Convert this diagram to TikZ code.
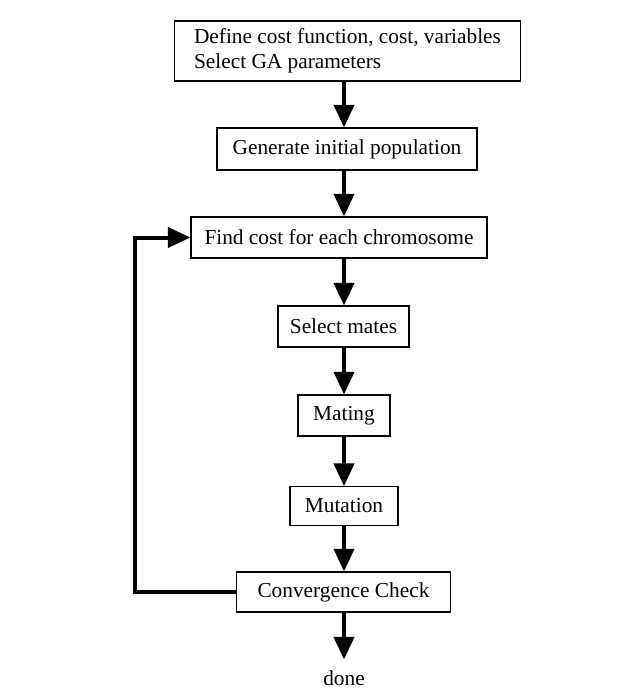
\documentclass[tikz,border=0pt]{standalone}
\usepackage{fontspec}
\setmainfont{Liberation Serif}
\usetikzlibrary{arrows.meta}
\tikzset{caixa/.style={draw,line width=0.8pt,inner sep=0pt,align=left,font=\fontsize{16}{19}\selectfont},
         fluxo/.style={line width=3pt,-{Triangle[length=17pt,width=15pt]}}}

\begin{document}
\begin{tikzpicture}[x=0.75pt,y=-0.75pt]
                  \useasboundingbox (0,0) rectangle (640,700);
                  \coordinate (eixo) at (344,0);
                  \node[caixa,minimum width=260pt,minimum height=45pt] (definir) at (347.5,51) {Define cost function, cost, variables\\Select GA parameters};
                  \node[caixa,minimum width=195pt,minimum height=31.5pt] (gerar) at (347,149) {Generate initial population};
                  \node[caixa,minimum width=222pt,minimum height=30.75pt] (custo) at (339,237.5) {Find cost for each chromosome};
                  \node[caixa,minimum width=98.25pt,minimum height=30.75pt] (selecao) at (343.5,326.5) {Select mates};
                  \node[caixa,minimum width=69pt,minimum height=30.75pt] (cruzamento) at (344,415.5) {Mating};
                  \node[caixa,minimum width=81pt,minimum height=29pt] (mutacao) at (344,506) {Mutation};
                  \node[caixa,minimum width=160pt,minimum height=30pt] (convergencia) at (343.5,592) {Convergence Check};
                  \node[font=\fontsize{16}{19}\selectfont,inner sep=0pt] (fim) at (344,678) {done};
                  \draw[fluxo] (definir.south -| eixo) -- (gerar.north -| eixo);
                  \draw[fluxo] (gerar.south -| eixo) -- (custo.north -| eixo);
                  \draw[fluxo] (custo.south -| eixo) -- (selecao.north -| eixo);
                  \draw[fluxo] (selecao.south -| eixo) -- (cruzamento.north -| eixo);
                  \draw[fluxo] (cruzamento.south -| eixo) -- (mutacao.north -| eixo);
                  \draw[fluxo] (mutacao.south -| eixo) -- (convergencia.north -| eixo);
                  \draw[fluxo,shorten >=8pt] (convergencia.south -| eixo) -- (fim.north);
                  \draw[fluxo] (convergencia.west) -- ++(-101,0) |- (custo.west);
            \end{tikzpicture}
\end{document}
